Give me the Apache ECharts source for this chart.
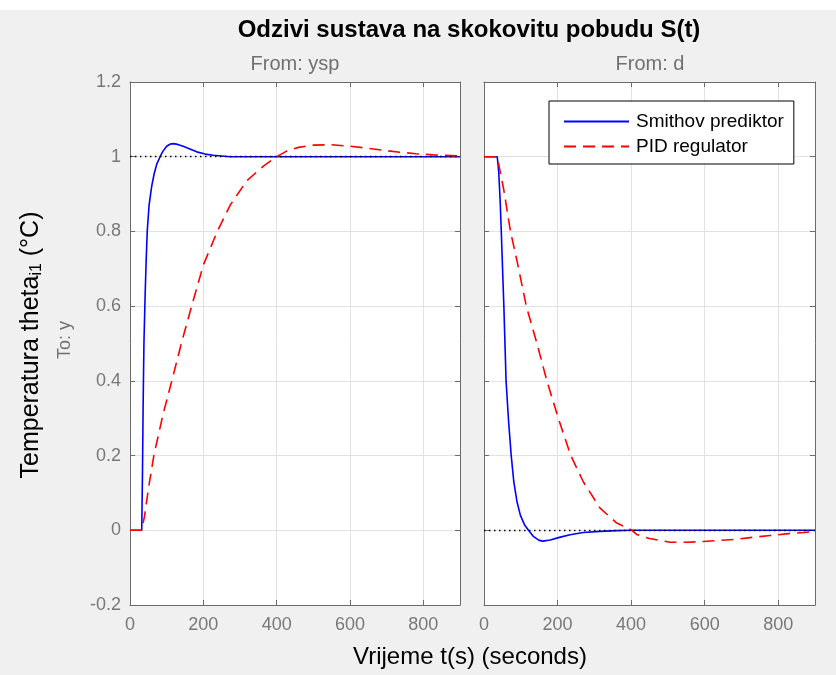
<!DOCTYPE html>
<html>
<head>
<meta charset="utf-8">
<script src="https://cdn.jsdelivr.net/npm/echarts@6/dist/echarts.min.js"></script>
<style>
html,body{margin:0;padding:0;background:#f0f0f0;}
#chart{width:836px;height:675px;}
</style>
</head>
<body>
<div id="chart"></div>
<script>
// ---- Data ----
const xTicks = {min: 0, max: 900, interval: 200};
const yTicks = {min: -0.2, max: 1.2, interval: 0.2};
const panelTitles = ['From: ysp', 'From: d'];
const seriesNames = ['Smithov prediktor', 'PID regulator'];
const refLevels = [1, 0];

// From: ysp, Smithov prediktor
const tSmithYsp = [0, 32, 34, 36, 38, 41, 44, 47, 52, 59, 66, 73, 82, 90, 100, 110, 118, 130, 145, 165, 182, 205, 227, 250, 273, 300, 350, 900];
const vSmithYsp = [0, 0, 0.15, 0.35, 0.5, 0.62, 0.72, 0.8, 0.87, 0.92, 0.955, 0.98, 1.0, 1.015, 1.028, 1.034, 1.035, 1.033, 1.028, 1.02, 1.013, 1.007, 1.004, 1.002, 1.0, 1.0, 1.0, 1.0];
// From: ysp, PID regulator
const tPidYsp = [0, 32, 40, 50, 65, 90, 114, 140, 168, 200, 238, 273, 318, 364, 400, 427, 460, 500, 550, 600, 645, 700, 736, 780, 827, 900];
const vPidYsp = [0, 0, 0.04, 0.11, 0.2, 0.31, 0.4, 0.5, 0.6, 0.71, 0.8, 0.87, 0.935, 0.975, 1.0, 1.015, 1.025, 1.031, 1.032, 1.028, 1.023, 1.016, 1.012, 1.008, 1.005, 1.002];
// From: d, Smithov prediktor
const tSmithD = [0, 36, 40, 44, 47, 54, 60, 67, 74, 81, 90, 99, 110, 121, 135, 150, 160, 180, 205, 234, 270, 315, 360, 400, 900];
const vSmithD = [1, 1, 0.96, 0.88, 0.8, 0.6, 0.4, 0.29, 0.2, 0.13, 0.075, 0.04, 0.015, 0, -0.017, -0.027, -0.029, -0.026, -0.019, -0.012, -0.006, -0.003, -0.001, 0, 0];
// From: d, PID regulator
const tPidD = [0, 36, 54, 72, 90, 115, 144, 171, 202, 236, 270, 315, 360, 402, 415, 450, 506, 550, 596, 640, 687, 730, 778, 827, 868, 900];
const vPidD = [1, 1, 0.91, 0.8, 0.72, 0.6, 0.5, 0.4, 0.3, 0.2, 0.13, 0.06, 0.02, 0, -0.011, -0.022, -0.032, -0.032, -0.03, -0.027, -0.024, -0.019, -0.014, -0.009, -0.006, -0.003];

const pairs = (t, v) => t.map((x, i) => [x, v[i]]);

// ---- Styles ----
const FONT = '"Liberation Sans", Arial, sans-serif';
const AXIS_COLOR = '#6b6b6b';
const LABEL_COLOR = '#787878';
const GRID_COLOR = '#e2e2e2';

const grids = [
  {left: 130, top: 82, width: 330, height: 523, show: true, backgroundColor: '#ffffff', borderWidth: 0},
  {left: 484, top: 82, width: 331, height: 523, show: true, backgroundColor: '#ffffff', borderWidth: 0}
];

function xAxisFor(gi, pos) {
  const main = pos === 'bottom';
  return {
    type: 'value', gridIndex: gi, position: pos,
    min: xTicks.min, max: xTicks.max, interval: xTicks.interval,
    axisLine: {show: true, onZero: false, lineStyle: {color: AXIS_COLOR, width: 1}},
    axisTick: {show: true, inside: true, length: 5, lineStyle: {color: AXIS_COLOR}},
    axisLabel: {show: main, showMaxLabel: false, color: LABEL_COLOR, fontSize: 18, fontFamily: FONT, margin: 11},
    splitLine: {show: main, lineStyle: {color: GRID_COLOR, width: 1}}
  };
}
function yAxisFor(gi, pos, labels) {
  const main = pos === 'left';
  return {
    type: 'value', gridIndex: gi, position: pos,
    min: yTicks.min, max: yTicks.max, interval: yTicks.interval,
    axisLine: {show: true, onZero: false, lineStyle: {color: AXIS_COLOR, width: 1}},
    axisTick: {show: true, inside: true, length: 5, lineStyle: {color: AXIS_COLOR}},
    axisLabel: {show: labels, color: LABEL_COLOR, fontSize: 18, fontFamily: FONT, margin: 9},
    splitLine: {show: main, lineStyle: {color: GRID_COLOR, width: 1}}
  };
}

const xAxes = [xAxisFor(0, 'bottom'), xAxisFor(0, 'top'), xAxisFor(1, 'bottom'), xAxisFor(1, 'top')];
const yAxes = [yAxisFor(0, 'left', true), yAxisFor(0, 'right', false), yAxisFor(1, 'left', false), yAxisFor(1, 'right', false)];

function refSeries(gi, level) {
  return {
    type: 'line', xAxisIndex: gi * 2, yAxisIndex: gi * 2, data: [], z: 1,
    markLine: {
      silent: true, symbol: 'none', label: {show: false},
      lineStyle: {color: '#000000', type: [1.5, 3.5], width: 1.3},
      data: [{yAxis: level}]
    }
  };
}
function blue(gi, data) {
  return {name: seriesNames[0], type: 'line', xAxisIndex: gi * 2, yAxisIndex: gi * 2, data: data,
    symbol: 'none', smooth: false, z: 3, lineStyle: {color: '#0000ff', width: 1.6}, itemStyle: {color: '#0000ff'}};
}
function red(gi, data) {
  return {name: seriesNames[1], type: 'line', xAxisIndex: gi * 2, yAxisIndex: gi * 2, data: data,
    symbol: 'none', smooth: false, z: 4, lineStyle: {color: '#ff0000', width: 1.6, type: [12, 7]}, itemStyle: {color: '#ff0000'}};
}

const option = {
  backgroundColor: '#f0f0f0',
  animation: false,
  textStyle: {fontFamily: FONT},
  grid: grids,
  xAxis: xAxes,
  yAxis: yAxes,
  legend: {
    data: seriesNames,
    orient: 'vertical',
    left: 549, top: 101,
    backgroundColor: '#ffffff',
    borderColor: '#000000', borderWidth: 1, borderRadius: 0,
    padding: [11, 10, 8, 14],
    itemWidth: 65, itemHeight: 14, itemGap: 6,
    itemStyle: {opacity: 0},
    textStyle: {color: '#000000', fontSize: 19, fontFamily: FONT, padding: [0, 0, 0, 2]}
  },
  graphic: [
    {type: 'rect', shape: {x: 0, y: 0, width: 836, height: 10}, style: {fill: '#ffffff'}, silent: true},
    {type: 'text', x: 469, y: 30, style: {text: 'Odzivi sustava na skokovitu pobudu S(t)', font: 'bold 24px ' + FONT, fill: '#000000', textAlign: 'center', textVerticalAlign: 'middle'}},
    {type: 'text', x: 295, y: 64, style: {text: panelTitles[0], font: '20px ' + FONT, fill: '#707070', textAlign: 'center', textVerticalAlign: 'middle'}},
    {type: 'text', x: 650, y: 64, style: {text: panelTitles[1], font: '20px ' + FONT, fill: '#707070', textAlign: 'center', textVerticalAlign: 'middle'}},
    {type: 'text', x: 470, y: 657, style: {text: 'Vrijeme t(s) (seconds)', font: '24px ' + FONT, fill: '#000000', textAlign: 'center', textVerticalAlign: 'middle'}},
    {type: 'text', x: 65, y: 340, rotation: Math.PI / 2, style: {text: 'To: y', font: '18px ' + FONT, fill: '#707070', textAlign: 'center', textVerticalAlign: 'middle'}},
    {type: 'text', x: 31, y: 345, rotation: Math.PI / 2, style: {
      text: '{m|Temperatura theta}{s|i1}{m| (°C)}',
      textAlign: 'center', textVerticalAlign: 'middle',
      rich: {
        m: {fontSize: 25, fontFamily: FONT, fill: '#000000', lineHeight: 28, verticalAlign: 'middle'},
        s: {fontSize: 16, fontFamily: FONT, fill: '#000000', lineHeight: 16, verticalAlign: 'bottom'}
      }
    }}
  ],
  series: [
    refSeries(0, refLevels[0]),
    refSeries(1, refLevels[1]),
    blue(0, pairs(tSmithYsp, vSmithYsp)),
    red(0, pairs(tPidYsp, vPidYsp)),
    blue(1, pairs(tSmithD, vSmithD)),
    red(1, pairs(tPidD, vPidD))
  ]
};

const chart = echarts.init(document.getElementById('chart'), null, {renderer: 'canvas'});
chart.setOption(option);
</script>
</body>
</html>
